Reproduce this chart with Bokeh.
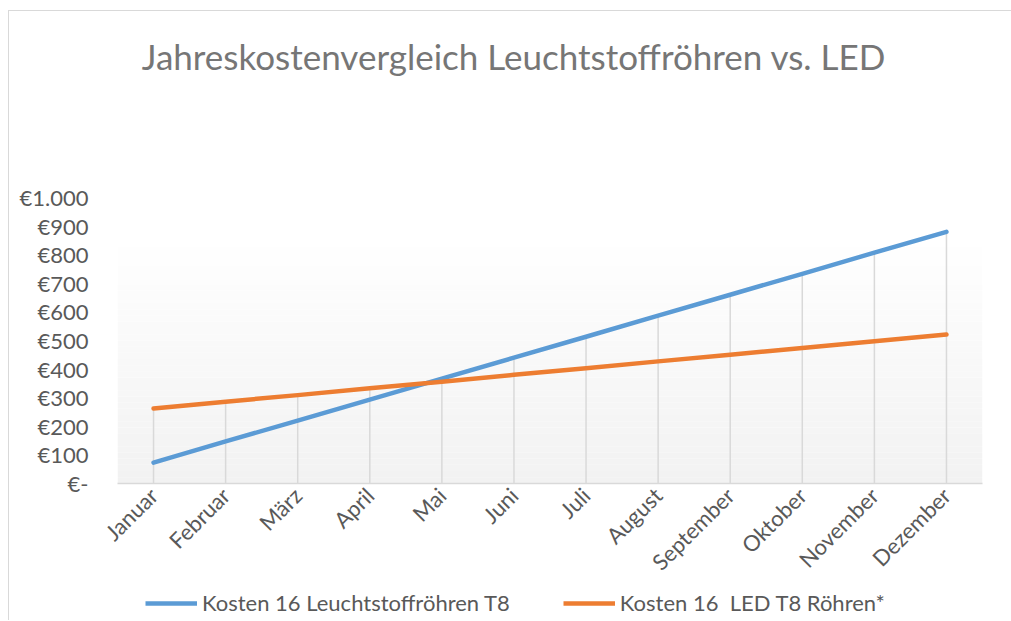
from bokeh.plotting import figure
from bokeh.models import Range1d, FixedTicker, Legend, LegendItem
from bokeh.core.properties import value
from bokeh.layouts import column
from bokeh.embed import file_html
from bokeh.resources import INLINE
import math

months = ["Januar", "Februar", "März", "April", "Mai", "Juni", "Juli",
          "August", "September", "Oktober", "November", "Dezember"]
kosten_leuchtstoff = [73, 147, 220, 293, 367, 440, 513, 587, 660, 733, 807, 880]
kosten_led = [262, 286, 309, 333, 356, 380, 403, 427, 450, 474, 497, 521]
y_ticks = [0, 100, 200, 300, 400, 500, 600, 700, 800, 900, 1000]
y_tick_labels = ["€-", "€100", "€200", "€300", "€400", "€500", "€600",
                 "€700", "€800", "€900", "€1.000"]
title_text = "Jahreskostenvergleich Leuchtstoffröhren vs. LED"
legend_labels = ["Kosten 16 Leuchtstoffröhren T8", "Kosten 16  LED T8 Röhren*"]

FONT = "Lato"
TXT = "#595959"
GRID = "#d9d9d9"
BLUE = "#5B9BD5"
ORANGE = "#ED7D31"

xs = list(range(len(months)))


def strip(height):
    f = figure(width=1002, height=height, output_backend="svg",
               toolbar_location=None, x_range=Range1d(0, 1),
               y_range=Range1d(0, 1), min_border_left=0, min_border_right=0,
               min_border_top=0, min_border_bottom=0)
    f.axis.visible = False
    f.grid.visible = False
    f.outline_line_color = None
    f.border_fill_color = "white"
    f.background_fill_color = "white"
    return f


# title strip
p0 = strip(88)
p0.text(x=[0.5], y=[0.5], text=[title_text], text_align="center",
        text_baseline="middle", x_offset=-36, text_font=value(FONT),
        text_font_size="35px", text_color="#767676")

# main chart
p = figure(width=1002, height=490, output_backend="svg", toolbar_location=None,
           x_range=Range1d(-0.5, len(months) - 0.5), y_range=Range1d(0, 1000),
           min_border_left=108, min_border_right=29, min_border_top=98,
           min_border_bottom=106)
p.outline_line_color = None
p.background_fill_color = "white"
p.border_fill_color = "white"
p.xgrid.visible = False
p.ygrid.visible = False

# plot area gradient background
n = 40
top = 870
for i in range(n):
    b = top * i / n
    t = top * (i + 1) / n
    c = int(round(242 + 13 * (i + 0.5) / n))
    p.quad(left=-0.5, right=len(months) - 0.5, bottom=b, top=t,
           fill_color=(c, c, c), line_color=None)

# drop lines
p.segment(x0=xs, y0=[0] * len(xs), x1=xs,
          y1=[max(a, b) for a, b in zip(kosten_leuchtstoff, kosten_led)],
          line_color=GRID, line_width=1.5)

p.line(xs, kosten_leuchtstoff, line_color=BLUE, line_width=4.5,
       line_cap="round", line_join="round")
p.line(xs, kosten_led, line_color=ORANGE, line_width=4.5,
       line_cap="round", line_join="round")

p.xaxis.ticker = FixedTicker(ticks=xs)
p.xaxis.major_label_overrides = {i: m for i, m in enumerate(months)}
p.xaxis.major_label_orientation = math.pi / 4
p.xaxis.axis_line_color = GRID
p.xaxis.axis_line_width = 1.5
p.xaxis.major_tick_line_color = None
p.xaxis.minor_tick_line_color = None
p.xaxis.major_label_standoff = 2
p.xaxis.major_label_text_font = FONT
p.xaxis.major_label_text_font_size = "22px"
p.xaxis.major_label_text_color = TXT

p.yaxis.ticker = FixedTicker(ticks=y_ticks)
p.yaxis.major_label_overrides = {v: l for v, l in zip(y_ticks, y_tick_labels)}
p.yaxis.axis_line_color = None
p.yaxis.major_tick_line_color = None
p.yaxis.minor_tick_line_color = None
p.yaxis.major_label_standoff = 23
p.yaxis.major_label_text_font = FONT
p.yaxis.major_label_text_font_size = "22px"
p.yaxis.major_label_text_color = TXT

# legend strip below the chart
p2 = strip(31)
l1 = p2.line(xs, kosten_leuchtstoff, line_color=BLUE, line_width=4.5)
l2 = p2.line(xs, kosten_led, line_color=ORANGE, line_width=4.5)
legend = Legend(items=[LegendItem(label=legend_labels[0], renderers=[l1]),
                       LegendItem(label=legend_labels[1], renderers=[l2])],
                orientation="horizontal", location=(28, 4),
                glyph_width=52, label_standoff=5, spacing=53, padding=0,
                margin=0, border_line_color=None, background_fill_alpha=0,
                label_text_font=FONT, label_text_font_size="22px",
                label_text_color=TXT)
p2.add_layout(legend, "center")

layout = column(p0, p, p2, spacing=0)
layout.styles = {"margin-left": "8px", "margin-top": "10px",
                 "border-left": "1px solid #d9d9d9",
                 "border-top": "1px solid #d9d9d9"}

open("out.html", "w").write(file_html(layout, INLINE))
